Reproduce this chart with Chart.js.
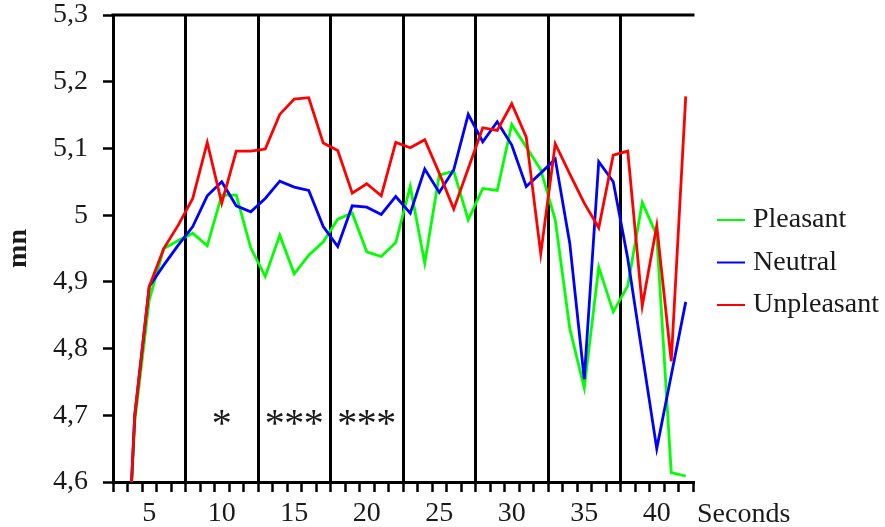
<!DOCTYPE html>
<html>
<head>
<meta charset="utf-8">
<script src="https://cdn.jsdelivr.net/npm/chart.js@4.4.1/dist/chart.umd.min.js"></script>
<style>
  html, body { margin: 0; padding: 0; background: #fff; }
  #wrap { width: 885px; height: 527px; }
</style>
</head>
<body>
<div id="wrap"><canvas id="chart"></canvas></div>
<script>
const seconds = ['3','4','5','6','7','8','9','10','11','12','13','14','15','16','17','18','19','20','21','22',
                 '23','24','25','26','27','28','29','30','31','32','33','34','35','36','37','38','39','40','41','42'];

const pleasant = [4.25, 4.69, 4.873, 4.95, 4.962, 4.973, 4.954, 5.03, 5.03, 4.951,
                  4.908, 4.97, 4.912, 4.94, 4.96, 4.994, 5.003, 4.945, 4.938, 4.959,
                  5.043, 4.928, 5.06, 5.066, 4.993, 5.04, 5.037, 5.136, 5.102, 5.068,
                  4.993, 4.83, 4.741, 4.922, 4.855, 4.894, 5.019, 4.97, 4.614, 4.609];

const neutral = [4.25, 4.70, 4.893, 4.925, 4.955, 4.983, 5.029, 5.05, 5.014, 5.005,
                 5.025, 5.051, 5.042, 5.037, 4.983, 4.953, 5.014, 5.012, 5.001, 5.028,
                 5.003, 5.069, 5.034, 5.068, 5.151, 5.11, 5.14, 5.105, 5.043, 5.063,
                 5.084, 4.958, 4.754, 5.08, 5.05, 4.935, 4.792, 4.65, 4.76, 4.87];

const unpleasant = [4.25, 4.70, 4.893, 4.95, 4.985, 5.025, 5.109, 5.018, 5.096, 5.096,
                    5.099, 5.151, 5.174, 5.176, 5.108, 5.097, 5.033, 5.047, 5.029, 5.109,
                    5.101, 5.113, 5.063, 5.009, 5.07, 5.131, 5.127, 5.167, 5.117, 4.942,
                    5.107, 5.062, 5.018, 4.981, 5.09, 5.096, 4.864, 4.984, 4.781, 5.178];

// significance marks above the x axis
const starSeconds = ['10', '15', '20'];
const starCounts = [1, 3, 3];

const serif = '"Liberation Serif", "Times New Roman", serif';
const textColor = '#1a1a1a';

const extras = {
    id: 'extras',
    afterDatasetsDraw(chart) {
        const { ctx, chartArea: a, scales: { x, y } } = chart;
        ctx.save();

        // top border of the plot area
        ctx.strokeStyle = '#000';
        ctx.lineWidth = 3;
        ctx.beginPath();
        ctx.moveTo(a.left - 1.5, a.top);
        ctx.lineTo(a.right + 1.5, a.top);
        ctx.stroke();

        // asterisks
        ctx.fillStyle = textColor;
        ctx.font = '40px ' + serif;
        ctx.textAlign = 'center';
        ctx.textBaseline = 'middle';
        const starY = y.getPixelForValue(4.684);
        starSeconds.forEach((s, i) => {
            const cx = x.getPixelForValue(seconds.indexOf(s));
            const n = starCounts[i];
            for (let k = 0; k < n; k++) {
                ctx.fillText('*', cx + (k - (n - 1) / 2) * 19.5, starY);
            }
        });

        // legend
        const ds = chart.data.datasets;
        ctx.font = '28px ' + serif;
        ctx.textAlign = 'left';
        ds.forEach((d, i) => {
            const ly = 220 + i * 42.5;
            ctx.strokeStyle = d.borderColor;
            ctx.lineWidth = 2;
            ctx.beginPath();
            ctx.moveTo(a.right + 24, ly);
            ctx.lineTo(a.right + 52, ly);
            ctx.stroke();
            ctx.fillText(d.label, a.right + 60, ly);
        });

        // x axis unit
        ctx.fillText('Seconds', a.right + 4, a.bottom + 33);
        ctx.restore();
    }
};

new Chart(document.getElementById('chart'), {
    type: 'line',
    data: {
        labels: seconds,
        datasets: [
            { label: 'Pleasant', data: pleasant, borderColor: '#00ff00', order: 3 },
            { label: 'Neutral', data: neutral, borderColor: '#0000ff', order: 2 },
            { label: 'Unpleasant', data: unpleasant, borderColor: '#ff0000', order: 1 }
        ]
    },
    options: {
        animation: false,
        responsive: true,
        maintainAspectRatio: false,
        layout: { padding: { left: 0, right: 192, top: 15, bottom: 0 } },
        elements: {
            line: { borderWidth: 2.8, tension: 0, fill: false },
            point: { radius: 0 }
        },
        plugins: {
            legend: { display: false },
            tooltip: { enabled: false }
        },
        scales: {
            x: {
                type: 'category',
                offset: true,
                afterFit: s => { s.height = 45; s.paddingLeft = 0; s.paddingRight = 0; },
                border: { color: '#000', width: 3 },
                grid: {
                    offset: true,
                    drawTicks: true,
                    tickLength: 10,
                    color: c => (c.index % 5 === 0 ? '#000' : 'rgba(0,0,0,0)'),
                    lineWidth: 3,
                    tickColor: '#000',
                    tickWidth: 2.5
                },
                ticks: {
                    autoSkip: false,
                    maxRotation: 0,
                    padding: 8,
                    color: textColor,
                    font: { family: serif, size: 28, lineHeight: 1 },
                    callback: function (v) {
                        const s = this.getLabelForValue(v);
                        return Number(s) % 5 === 0 ? s : '';
                    }
                }
            },
            y: {
                min: 4.6,
                max: 5.3,
                afterFit: s => { s.width = 113; s.paddingTop = 0; s.paddingBottom = 0; },
                border: { color: '#000', width: 3 },
                grid: {
                    drawOnChartArea: false,
                    drawTicks: true,
                    tickLength: 10,
                    tickColor: '#000',
                    tickWidth: 2.5
                },
                ticks: {
                    stepSize: 0.1,
                    padding: 15,
                    color: textColor,
                    font: { family: serif, size: 28, lineHeight: 1 },
                    callback: v => String(Number(v.toFixed(1))).replace('.', ',')
                },
                title: {
                    display: true,
                    text: 'mn',
                    color: textColor,
                    padding: 2,
                    font: { family: serif, size: 28, weight: 'bold', lineHeight: 1.2 }
                }
            }
        }
    },
    plugins: [extras]
});
</script>
</body>
</html>
